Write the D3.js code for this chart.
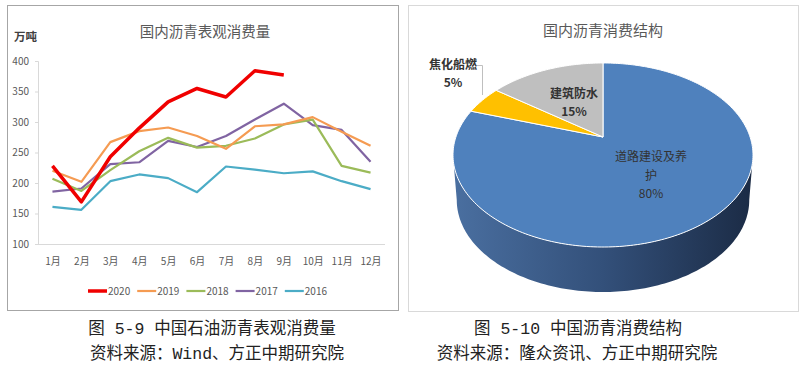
<!DOCTYPE html>
<html>
<head>
<meta charset="utf-8">
<script src="https://cdn.jsdelivr.net/npm/d3@7"></script>
<style>
  body { margin: 0; background: #fff; }
  svg { display: block; }
  .cjk { font-family: "Liberation Sans Narrow", "Noto Sans CJK SC", sans-serif; }
  .cap { font-family: "Liberation Mono", "Noto Sans CJK SC", monospace; }
</style>
</head>
<body>
<svg id="chart" width="803" height="376"></svg>
<script>
// ---- data ----
const months = ['1月', '2月', '3月', '4月', '5月', '6月', '7月', '8月', '9月', '10月', '11月', '12月']
const years = ['2020', '2019', '2018', '2017', '2016']
const v2020 = [228, 169, 243, 290, 333, 355, 341, 384, 377]
const v2019 = [220, 202, 267, 285, 291, 277, 256, 293, 296, 308, 284, 261]
const v2018 = [207, 187, 221, 252, 274, 258, 261, 273, 296, 304, 228, 217]
const v2017 = [186, 191, 231, 234, 269, 259, 277, 304, 330, 295, 287, 235]
const v2016 = [161, 156, 203, 214, 208, 185, 227, 222, 216, 219, 203, 190]
const yTicks = [100, 150, 200, 250, 300, 350, 400]

const pieNames = ['道路建设及养护', '焦化船燃', '建筑防水']
const pieValues = [80, 5, 15]

const seriesColors = ['#F00000', '#F59B52', '#9BBB59', '#8064A2', '#4BACC6']
const seriesWidths = [3.5, 2.2, 2.2, 2.2, 2.2]
const sliceColors = ['#4F81BD', '#FFC000', '#BFBFBF']

const svg = d3.select('#chart')

// ---- left panel: line chart ----
svg.append('rect')
  .attr('x', 7.5).attr('y', 5.5).attr('width', 391).attr('height', 305)
  .attr('fill', '#fff').attr('stroke', '#a6a6a6')

svg.append('text').attr('class', 'cjk')
  .attr('x', 205).attr('y', 37).attr('text-anchor', 'middle')
  .attr('font-size', 14.5).attr('fill', '#595959')
  .text('国内沥青表观消费量')

svg.append('text').attr('class', 'cjk')
  .attr('x', 14).attr('y', 41).attr('font-size', 11.5).attr('font-weight', 'bold')
  .attr('fill', '#404040').text('万吨')

const x = d3.scalePoint().domain(months).range([38, 385]).padding(0.5)
const y = d3.scaleLinear().domain([100, 400]).range([244, 61])

const yAxis = svg.append('g')
  .attr('transform', 'translate(38,0)')
  .call(d3.axisLeft(y).tickValues(yTicks).tickSize(3).tickPadding(6))
yAxis.select('.domain').attr('stroke', '#d9d9d9')
yAxis.selectAll('.tick line').attr('stroke', '#d9d9d9')
yAxis.selectAll('.tick text').attr('class', 'cjk').attr('font-size', 10).attr('fill', '#595959')

const xAxis = svg.append('g')
  .attr('transform', 'translate(0,244)')
  .call(d3.axisBottom(x).tickSize(0).tickPadding(14))
xAxis.select('.domain').attr('stroke', '#d9d9d9').attr('d', 'M38,0.5H385')
xAxis.selectAll('.tick text').attr('class', 'cjk').attr('font-size', 10).attr('fill', '#595959')

const series = [v2020, v2019, v2018, v2017, v2016]
const line = d3.line().x((d, i) => x(months[i])).y(d => y(d))

// draw older years first so 2020 sits on top
for (let k = series.length - 1; k >= 0; k--) {
  svg.append('path')
    .datum(series[k])
    .attr('d', line)
    .attr('fill', 'none')
    .attr('stroke', seriesColors[k])
    .attr('stroke-width', seriesWidths[k])
    .attr('stroke-linejoin', 'round')
}

const legend = svg.append('g').attr('transform', 'translate(88,291)')
years.forEach((yr, i) => {
  const g = legend.append('g').attr('transform', `translate(${i * 49.2},0)`)
  g.append('line').attr('x1', 0).attr('x2', 19).attr('y1', 0).attr('y2', 0)
    .attr('stroke', seriesColors[i]).attr('stroke-width', seriesWidths[i])
  g.append('text').attr('class', 'cjk').attr('x', 20).attr('y', 3.5)
    .attr('font-size', 10).attr('fill', '#595959').text(yr)
})

// ---- right panel: 3D pie ----
svg.append('rect')
  .attr('x', 408.5).attr('y', 5.5).attr('width', 390).attr('height', 306)
  .attr('fill', '#fff').attr('stroke', '#d9d9d9')

svg.append('text').attr('class', 'cjk')
  .attr('x', 603).attr('y', 36).attr('text-anchor', 'middle')
  .attr('font-size', 15).attr('fill', '#595959')
  .text('国内沥青消费结构')

// perspective projection of the pie disc
const P = { cx: 603, cy: 137, A: 147.1, B: 88.5, b: 0.1956, depth: 45, shrink: 0.975 }
function proj (theta, r, bottom) {
  const u = r * Math.sin(theta)
  const v = -r * Math.cos(theta)
  let px = P.cx + P.A * u / (1 - P.b * v)
  let py = P.cy + P.B * v / (1 - P.b * v)
  if (bottom) {
    px = P.cx + (px - P.cx) * P.shrink
    py += P.depth
  }
  return [px, py]
}
function sample (a0, a1, bottom) {
  const n = Math.max(2, Math.ceil(Math.abs(a1 - a0) / 0.02))
  return d3.range(n + 1).map(i => proj(a0 + (a1 - a0) * i / n, 1, bottom))
}

const defs = svg.append('defs')
const grad = defs.append('linearGradient').attr('id', 'side')
  .attr('x1', '0%').attr('x2', '100%').attr('y1', '0%').attr('y2', '0%')
grad.append('stop').attr('offset', '0%').attr('stop-color', '#4A6FA0')
grad.append('stop').attr('offset', '50%').attr('stop-color', '#33507A')
grad.append('stop').attr('offset', '100%').attr('stop-color', '#1B2B45')

const pie = d3.pie().sort(null).value(d => d)(pieValues)
const poly = d3.line()

// side wall (front, belongs to the big slice)
const aL = Math.acos(-P.b)
const aR = 2 * Math.PI - aL
const side = sample(aL, aR, false).concat(sample(aR, aL, true))
svg.append('path').attr('d', poly(side) + 'Z').attr('fill', 'url(#side)')

svg.selectAll('path.slice')
  .data(pie)
  .enter()
  .append('path')
  .attr('class', 'slice')
  .attr('d', d => poly([proj(0, 0, false)].concat(sample(d.startAngle, d.endAngle, false))) + 'Z')
  .attr('fill', (d, i) => sliceColors[i])
  .attr('stroke', '#fff')
  .attr('stroke-width', 1)
  .attr('stroke-linejoin', 'round')

// labels
function label (lines, lx, ly, bold) {
  const t = svg.append('text').attr('class', 'cjk').attr('text-anchor', 'middle')
    .attr('font-size', 12).attr('fill', '#333').attr('font-weight', bold ? 'bold' : 'normal')
  lines.forEach((s, i) => {
    t.append('tspan').attr('x', lx).attr('y', ly + i * 18.5).text(s)
  })
}
const pct = v => Math.round(v / d3.sum(pieValues) * 100) + '%'
label([pieNames[0].slice(0, 6), pieNames[0].slice(6), pct(pieValues[0])], 651, 161, false)
label([pieNames[1], pct(pieValues[1])], 453, 68.5, true)
label([pieNames[2], pct(pieValues[2])], 574, 97.5, true)

svg.append('path')
  .attr('d', 'M477,65.5H482.5V95')
  .attr('fill', 'none').attr('stroke', '#bfbfbf').attr('stroke-width', 1)

// ---- captions ----
const caps = [
  ['图 5-9 中国石油沥青表观消费量', 212, 334],
  ['资料来源：Wind、方正中期研究院', 217, 359],
  ['图 5-10 中国沥青消费结构', 578, 334],
  ['资料来源：隆众资讯、方正中期研究院', 577, 359]
]
caps.forEach(c => {
  svg.append('text').attr('class', 'cap').attr('x', c[1]).attr('y', c[2])
    .attr('text-anchor', 'middle').attr('font-size', 16.5).attr('fill', '#222')
    .text(c[0])
})
</script>
</body>
</html>
